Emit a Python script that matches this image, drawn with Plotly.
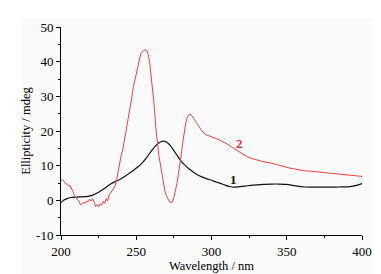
import plotly.graph_objects as go

# Series 1 (black)
wl_1 = [200, 202, 204, 206, 209, 212, 215, 218, 221, 224, 227, 230, 233, 236, 239, 242, 245, 248, 251, 254,
        257, 260, 263, 266, 268, 270, 272, 274, 276, 278, 280, 282, 285, 288, 291, 294, 297, 300, 303, 306,
        309, 312, 315, 318, 322, 326, 330, 335, 340, 345, 350, 354, 358, 362, 366, 370, 375, 380, 385, 390,
        394, 397, 400]
cd_1 = [-0.6, 0.1, 0.5, 0.75, 0.9, 1.0, 1.05, 1.15, 1.5, 2.1, 2.9, 3.8, 4.7, 5.4, 6.0, 6.8, 7.7, 8.6, 9.6, 10.8,
        12.4, 14.2, 15.8, 16.8, 17.1, 16.8, 16.1, 15.0, 13.7, 12.4, 11.2, 10.3, 9.1, 8.1, 7.3, 6.7, 6.2, 5.8, 5.3, 4.9,
        4.4, 4.0, 3.8, 3.9, 4.1, 4.3, 4.45, 4.6, 4.7, 4.7, 4.6, 4.3, 4.0, 3.85, 3.8, 3.8, 3.8, 3.8, 3.85, 3.9,
        4.1, 4.4, 4.8]

# Series 2 (red)
wl_2 = [200, 201, 202, 203, 204, 205, 206, 207, 208, 209, 210, 211, 212, 213, 214, 215, 216, 217, 218, 219,
        220, 221, 222, 223, 224, 225, 226, 227, 228, 229, 230, 231, 232, 233, 234, 235, 236, 237, 238, 239,
        240, 241, 242, 243, 244, 245, 246, 247, 248, 249, 250, 251, 252, 253, 254, 255, 256, 257, 258, 259,
        260, 261, 262, 263, 264, 265, 266, 267, 268, 269, 270, 271, 272, 273, 274, 275, 276, 277, 278, 279,
        280, 281, 282, 283, 284, 285, 286, 287, 288, 289, 290, 292, 294, 296, 298, 300, 304, 308, 311, 314,
        318, 321, 324, 328, 331, 335, 340, 344, 348, 352, 357, 362, 366, 371, 375, 379, 384, 388, 392, 396, 400]
cd_2 = [5.8, 5.9, 5.5, 4.8, 4.6, 4.2, 4.3, 3.5, 2.5, 1.2, 0.8, 0.2, -0.3, -1.3, -1.0, -0.6, -0.8, -0.2, -0.4, 0.3,
        -0.2, 0.5, -0.5, -1.8, -1.2, -1.9, -1.0, -1.4, -0.3, -0.9, 0.5, -0.2, 1.5, 2.2, 3.0, 3.6, 4.2, 6.0, 8.5, 11.0,
        13.0, 14.5, 17.0, 19.2, 21.5, 23.5, 26.5, 29.5, 32.5, 34.5, 36.0, 38.5, 40.8, 42.3, 42.8, 43.3, 43.5, 43.2, 42.0, 39.5,
        35.5, 31.0, 27.0, 21.0, 16.5, 13.0, 10.5, 7.5, 5.0, 2.8, 1.4, 0.3, -0.4, -0.7, -0.4, 0.8, 2.5, 4.8, 7.5, 10.0,
        13.5, 17.0, 20.0, 22.5, 24.0, 24.7, 24.8, 24.4, 23.7, 23.0, 22.3, 21.0, 19.8, 19.0, 18.6, 18.3, 17.7, 16.8, 16.1, 15.2,
        14.2, 13.4, 12.5, 11.9, 11.5, 11.1, 10.7, 10.2, 9.7, 9.3, 8.9, 8.5, 8.4, 8.2, 8.1, 7.9, 7.7, 7.4, 7.2, 7.1, 6.9]

x_ticks = [200, 250, 300, 350, 400]
y_ticks = [-10, 0, 10, 20, 30, 40, 50]

FONT = "Liberation Serif, Times New Roman, serif"

fig = go.Figure()
fig.add_trace(go.Scatter(x=wl_1, y=cd_1, mode="lines", line=dict(color="#111111", width=1.2, shape="spline", smoothing=0.5),
                         showlegend=False))
fig.add_trace(go.Scatter(x=wl_2, y=cd_2, mode="lines", line=dict(color="#f04040", width=1),
                         showlegend=False))

fig.add_annotation(x=314.3, y=6.1, text="<b>1</b>", showarrow=False, font=dict(family=FONT, size=13, color="#111111"))
fig.add_annotation(x=318.7, y=16.5, text="<b>2</b>", showarrow=False, font=dict(family=FONT, size=13, color="#e83030"))

fig.add_shape(type="rect", xref="paper", yref="paper", x0=-0.133, x1=1.043, y0=-0.2, y1=1.04,
              fillcolor="#fafafa", line=dict(width=0), layer="below")

axis_common = dict(showline=True, linecolor="black", linewidth=1, ticks="outside", ticklen=4, tickwidth=1,
                   tickcolor="black", showgrid=False, zeroline=False, mirror=False,
                   tickfont=dict(family=FONT, size=13, color="black"))

fig.update_xaxes(range=[200, 400], tickvals=x_ticks, ticktext=[str(v) for v in x_ticks],
                 minor=dict(ticks="outside", ticklen=2, dtick=25, tick0=200, tickcolor="black"),
                 title=dict(text="Wavelength / nm", font=dict(family=FONT, size=12.5, color="black"), standoff=3),
                 **axis_common)
fig.update_yaxes(range=[-10, 50], tickvals=y_ticks, ticktext=[str(v) for v in y_ticks],
                 minor=dict(ticks="outside", ticklen=2, dtick=5, tick0=0, tickcolor="black"),
                 title=dict(text="Ellipticity / mdeg", font=dict(family=FONT, size=12.5, color="black"), standoff=2),
                 **axis_common)

fig.update_layout(width=381, height=274, margin=dict(l=53, r=27, t=15, b=35),
                  paper_bgcolor="white", plot_bgcolor="rgba(0,0,0,0)")

fig.write_html("out.html")
